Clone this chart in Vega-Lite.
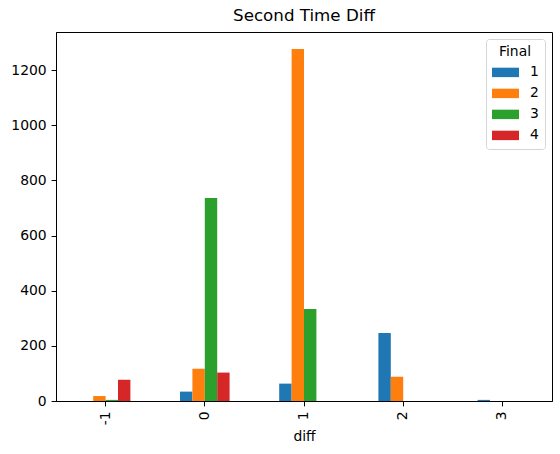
{
  "$schema": "https://vega.github.io/schema/vega-lite/v6.json",
  "autosize": {"type": "none"},
  "width": 496,
  "height": 369,
  "padding": {"left": 56, "top": 32, "right": 8, "bottom": 53},
  "background": "white",
  "title": {
    "text": "Second Time Diff",
    "font": "DejaVu Sans",
    "fontSize": 16.7,
    "fontWeight": "normal",
    "color": "black",
    "anchor": "middle",
    "offset": 7
  },
  "config": {
    "view": {"stroke": "black", "strokeWidth": 1},
    "font": "DejaVu Sans"
  },
  "data": {
    "values": [
      {"diff": "-1", "Final": "2", "count": 18},
      {"diff": "-1", "Final": "3", "count": 4},
      {"diff": "-1", "Final": "4", "count": 77},
      {"diff": "0", "Final": "1", "count": 34},
      {"diff": "0", "Final": "2", "count": 117},
      {"diff": "0", "Final": "3", "count": 736},
      {"diff": "0", "Final": "4", "count": 103},
      {"diff": "1", "Final": "1", "count": 63},
      {"diff": "1", "Final": "2", "count": 1276},
      {"diff": "1", "Final": "3", "count": 334},
      {"diff": "2", "Final": "1", "count": 247},
      {"diff": "2", "Final": "2", "count": 88},
      {"diff": "3", "Final": "1", "count": 4}
    ]
  },
  "mark": {"type": "bar"},
  "encoding": {
    "x": {
      "field": "diff",
      "type": "nominal",
      "sort": ["-1", "0", "1", "2", "3"],
      "scale": {"domain": ["-1", "0", "1", "2", "3"], "paddingInner": 0.5, "paddingOuter": 0.25},
      "title": "diff",
      "axis": {
        "labelAngle": 270,
        "labelFontSize": 13.9,
        "labelColor": "black",
        "titleFontSize": 13.9,
        "titleFontWeight": "normal",
        "titleColor": "black",
        "domainColor": "black",
        "tickColor": "black",
        "tickSize": 4.9,
        "labelPadding": 4.9,
        "titlePadding": 5
      }
    },
    "xOffset": {
      "field": "Final",
      "type": "nominal",
      "scale": {"domain": ["1", "2", "3", "4"], "paddingInner": 0, "paddingOuter": 0}
    },
    "y": {
      "field": "count",
      "type": "quantitative",
      "scale": {"domain": [0, 1338], "nice": false},
      "title": null,
      "axis": {
        "values": [0, 200, 400, 600, 800, 1000, 1200],
        "format": "d",
        "grid": false,
        "labelFontSize": 13.9,
        "labelColor": "black",
        "domainColor": "black",
        "tickColor": "black",
        "tickSize": 4.9,
        "labelPadding": 4.9
      }
    },
    "color": {
      "field": "Final",
      "type": "nominal",
      "scale": {"domain": ["1", "2", "3", "4"], "range": ["#1f77b4", "#ff7f0e", "#2ca02c", "#d62728"]},
      "legend": {
        "title": "Final",
        "orient": "top-right",
        "offset": 7,
        "padding": 6,
        "fillColor": "white",
        "strokeColor": "#d5d5d5",
        "cornerRadius": 3,
        "titleFont": "DejaVu Sans",
        "titleFontSize": 13.9,
        "titleFontWeight": "normal",
        "titleColor": "black",
        "titleAnchor": "middle",
        "titlePadding": 0,
        "labelFont": "DejaVu Sans",
        "labelFontSize": 13.9,
        "labelColor": "black",
        "labelOffset": 11,
        "rowPadding": 0,
        "symbolType": "M-1,-0.35L1,-0.35L1,0.35L-1,0.35Z",
        "symbolSize": 729,
        "symbolStrokeWidth": 0
      }
    }
  }
}
